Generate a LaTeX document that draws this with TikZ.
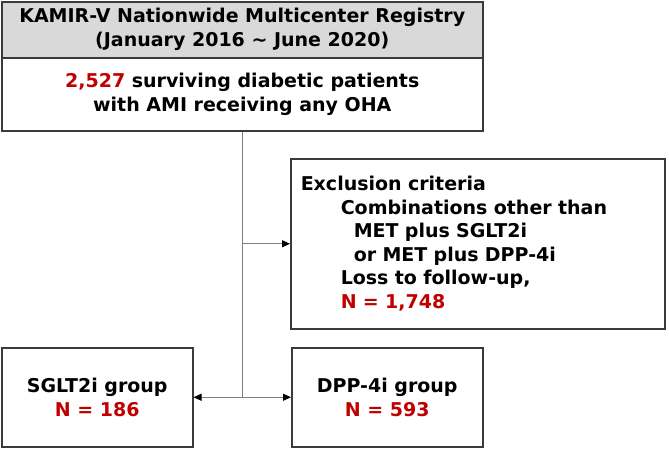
\documentclass[tikz,border=0pt]{standalone}
\usepackage{fontspec}
\setmainfont{DejaVu Sans}
\usetikzlibrary{arrows.meta}
\definecolor{boxline}{HTML}{3A3A3A}
\definecolor{headgray}{HTML}{D9D9D9}
\definecolor{nred}{HTML}{C00000}
\definecolor{connline}{HTML}{7F7F7F}
\begin{document}
\begin{tikzpicture}[x=1pt,y=1pt,
  box/.style={draw=boxline, line width=1.5pt, inner sep=0pt, align=center,
    font=\bfseries\fontsize{19}{23.5}\selectfont},
  conn/.style={draw=connline, line width=0.8pt},
  tipped/.style={conn, -{Triangle[length=8pt,width=7pt,color=black]}}]
\useasboundingbox (0,0) rectangle (669,-451);
\node[box, fill=headgray, minimum width=481pt, minimum height=56pt, anchor=north west,
  font=\bfseries\fontsize{19}{24}\selectfont] (reg) at (1,-1)
  {\rule{0pt}{6pt}KAMIR-V Nationwide Multicenter Registry\\(January 2016 \textasciitilde{} June 2020)};
\node[box, fill=white, minimum width=481pt, minimum height=73pt, anchor=north west,
  font=\bfseries\fontsize{19}{24}\selectfont] (pop) at (1,-57)
  {\textcolor{nred}{2,527} surviving diabetic patients\\with AMI receiving any OHA};
\node[box, minimum width=374pt, minimum height=170pt, anchor=north west,
  text width=354pt, align=left] (exc) at (290,-158)
  {Exclusion criteria\\
   \hspace*{40pt}Combinations other than\\
   \hspace*{53pt}MET plus SGLT2i\\
   \hspace*{53pt}or MET plus DPP-4i\\
   \hspace*{40pt}Loss to follow-up,\\
   \hspace*{40pt}\textcolor{nred}{N = 1,748}};
\node[box, minimum width=191pt, minimum height=99pt, anchor=north west] (sglt) at (1,-347)
  {SGLT2i group\\\textcolor{nred}{N = 186}};
\node[box, minimum width=191pt, minimum height=99pt, anchor=north west] (dpp) at (291,-347)
  {DPP-4i group\\\textcolor{nred}{N = 593}};
\coordinate (split) at (pop.south |- sglt.east);
\coordinate (branch) at (pop.south |- exc.west);
\draw[conn] (pop.south) -- (split);
\draw[tipped] (branch) -- (exc.west);
\draw[tipped] (split) -- (sglt.east);
\draw[tipped] (split) -- (dpp.west);
\end{tikzpicture}
\end{document}
